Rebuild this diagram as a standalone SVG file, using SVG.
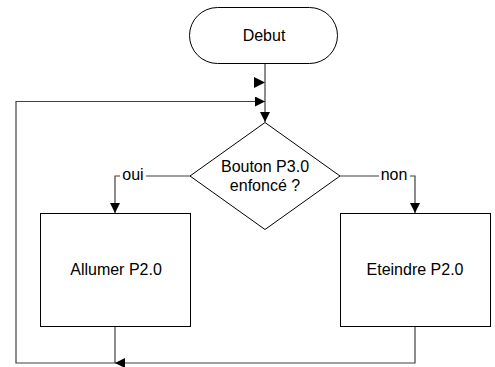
<svg xmlns="http://www.w3.org/2000/svg" width="495" height="367" viewBox="0 0 495 367">
<style>
.s{fill:#fff;stroke:#000;stroke-width:1}
.c{fill:none;stroke:#404040;stroke-width:1.2}
.t{font-family:"Liberation Sans",Arial,sans-serif;font-size:16px;fill:#000;text-anchor:middle}
.lb{font-family:"Liberation Sans",Arial,sans-serif;font-size:16px;fill:#000;text-anchor:middle}
.bg{fill:#fff;stroke:none}
</style>
<defs>
<marker id="a" viewBox="0 0 10 10" refX="10" refY="5" markerWidth="10" markerHeight="10" markerUnits="userSpaceOnUse" orient="auto">
<path d="M0,0L10,5L0,10z" fill="#000"/>
</marker>
</defs>
<rect width="495" height="367" fill="#fff"/>
<g id="connectors">
<path class="c" d="M265,64V122" marker-end="url(#a)"/>
<path d="M254,77L265,82.5L254,88z" fill="#000"/>
<path class="c" d="M115,326V363H16V101.5H265" marker-end="url(#a)"/>
<path class="c" d="M415,326V363H115" marker-end="url(#a)"/>
<path class="c" d="M190,176H115V213" marker-end="url(#a)"/>
<path class="c" d="M340,176H415V213" marker-end="url(#a)"/>
<rect class="bg" x="120" y="168" width="26" height="15"/>
<text class="lb" x="133" y="180">oui</text>
<rect class="bg" x="379" y="168" width="31" height="15"/>
<text class="lb" x="394" y="180">non</text>
</g>
<g id="debut">
<rect class="s" x="189.5" y="7.5" width="148" height="56" rx="28" ry="28"/>
<text class="t" x="264" y="41">Debut</text>
</g>
<g id="test">
<path class="s" d="M265,122.5L340,176L265,229.5L190,176z"/>
<text class="t" x="265" y="172">Bouton P3.0</text>
<text class="t" x="265" y="191">enfoncé ?</text>
</g>
<g id="allumer">
<rect class="s" x="40.5" y="213.5" width="150" height="113"/>
<text class="t" x="116" y="275">Allumer P2.0</text>
</g>
<g id="eteindre">
<rect class="s" x="340.5" y="213.5" width="150" height="113"/>
<text class="t" x="415" y="275">Eteindre P2.0</text>
</g>
</svg>
